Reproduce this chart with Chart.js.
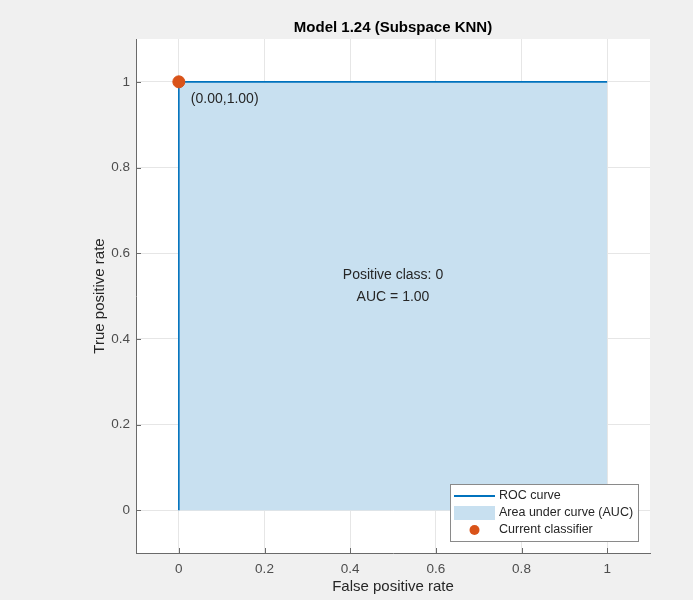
<!DOCTYPE html>
<html>
<head>
<meta charset="utf-8">
<script src="https://cdn.jsdelivr.net/npm/chart.js@4.4.1/dist/chart.umd.min.js"></script>
<style>
  html, body { margin: 0; padding: 0; background: #f0f0f0; }
  #wrap { width: 693px; height: 600px; }
</style>
</head>
<body>
<div id="wrap"><canvas id="roc"></canvas></div>
<script>
// ROC curve, Model 1.24 (Subspace KNN)
const fprValues = [0, 0, 1];
const tprValues = [0, 1, 1];
const currentFpr = [0];
const currentTpr = [1];
const xTicks = [0, 0.2, 0.4, 0.6, 0.8, 1];
const yTicks = [0, 0.2, 0.4, 0.6, 0.8, 1];
const tickLabels = ['0', '0.2', '0.4', '0.6', '0.8', '1'];
const chartTitle = 'Model 1.24 (Subspace KNN)';
const pointLabel = '(0.00,1.00)';
const infoLines = ['Positive class: 0', 'AUC = 1.00'];
const legendItems = ['ROC curve', 'Area under curve (AUC)', 'Current classifier'];

const colors = {
    roc: '#0072BD',
    area: 'rgb(200,224,240)',
    current: '#D95319',
    axis: '#6a6a6a',
    grid: '#e6e6e6',
    text: '#262626',
    tick: '#4d4d4d'
};
const fontFamily = '"Liberation Sans", Arial, Helvetica, sans-serif';

const rocPoints = fprValues.map((x, i) => ({ x, y: tprValues[i] }));
const currentPoints = currentFpr.map((x, i) => ({ x, y: currentTpr[i] }));

const backgroundPlugin = {
    id: 'matlabBackground',
    beforeDraw(chart) {
        const { ctx, chartArea: a } = chart;
        ctx.save();
        ctx.fillStyle = '#f0f0f0';
        ctx.fillRect(0, 0, chart.width, chart.height);
        ctx.fillStyle = '#ffffff';
        ctx.fillRect(a.left, a.top, a.right - a.left, a.bottom - a.top);
        ctx.restore();
    }
};

const overlayPlugin = {
    id: 'matlabOverlay',
    afterDraw(chart) {
        const { ctx, chartArea: a, scales } = chart;
        const xs = scales.x, ys = scales.y;
        ctx.save();

        // title centred over the axes
        ctx.fillStyle = '#000000';
        ctx.font = 'bold 15px ' + fontFamily;
        ctx.textAlign = 'center';
        ctx.textBaseline = 'middle';
        ctx.fillText(chartTitle, (a.left + a.right) / 2, 28);

        // inward tick marks
        ctx.strokeStyle = colors.axis;
        ctx.lineWidth = 1;
        ctx.beginPath();
        xTicks.forEach(v => {
            const px = Math.round(xs.getPixelForValue(v)) + 0.5;
            ctx.moveTo(px, a.bottom);
            ctx.lineTo(px, a.bottom - 5);
        });
        yTicks.forEach(v => {
            const py = Math.round(ys.getPixelForValue(v)) + 0.5;
            ctx.moveTo(a.left, py);
            ctx.lineTo(a.left + 5, py);
        });
        ctx.stroke();

        // current classifier label
        ctx.fillStyle = colors.text;
        ctx.font = '14px ' + fontFamily;
        ctx.textAlign = 'left';
        ctx.fillText(pointLabel,
            xs.getPixelForValue(currentFpr[0]) + 12,
            ys.getPixelForValue(currentTpr[0]) + 17);

        // positive class / AUC text
        ctx.textAlign = 'center';
        ctx.font = '14px ' + fontFamily;
        const cx = xs.getPixelForValue(0.5);
        ctx.fillText(infoLines[0], cx, ys.getPixelForValue(0.549));
        ctx.fillText(infoLines[1], cx, ys.getPixelForValue(0.498));

        // legend box in lower right corner
        const w = 188, h = 57;
        const bx = a.right - 12 - w, by = a.bottom - 12 - h;
        ctx.fillStyle = '#ffffff';
        ctx.fillRect(bx, by, w, h);
        ctx.strokeStyle = '#8a8a8a';
        ctx.strokeRect(bx + 0.5, by + 0.5, w, h);

        const sx0 = bx + 4, sx1 = bx + 45;
        ctx.strokeStyle = colors.roc;
        ctx.lineWidth = 2;
        ctx.beginPath();
        ctx.moveTo(sx0, by + 12);
        ctx.lineTo(sx1, by + 12);
        ctx.stroke();

        ctx.fillStyle = colors.area;
        ctx.fillRect(sx0, by + 22, sx1 - sx0, 14);

        ctx.fillStyle = colors.current;
        ctx.beginPath();
        ctx.arc((sx0 + sx1) / 2, by + 46, 5, 0, Math.PI * 2);
        ctx.fill();

        ctx.fillStyle = colors.text;
        ctx.font = '12.5px ' + fontFamily;
        ctx.textAlign = 'left';
        ctx.fillText(legendItems[0], bx + 49, by + 12);
        ctx.fillText(legendItems[1], bx + 49, by + 29);
        ctx.fillText(legendItems[2], bx + 49, by + 46);

        ctx.restore();
    }
};

function tickText(value) {
    const i = xTicks.findIndex(t => Math.abs(t - value) < 1e-9);
    return i >= 0 ? tickLabels[i] : '';
}

new Chart(document.getElementById('roc'), {
    type: 'scatter',
    plugins: [backgroundPlugin, overlayPlugin],
    data: {
        datasets: [
            {
                label: legendItems[1],
                data: rocPoints,
                showLine: true,
                borderWidth: 0,
                borderColor: 'rgba(0,0,0,0)',
                backgroundColor: colors.area,
                fill: { value: 0 },
                pointRadius: 0,
                tension: 0,
                order: 3
            },
            {
                label: legendItems[0],
                data: rocPoints,
                showLine: true,
                borderWidth: 1.6,
                borderColor: colors.roc,
                fill: false,
                pointRadius: 0,
                tension: 0,
                order: 2
            },
            {
                label: legendItems[2],
                data: currentPoints,
                pointRadius: 6,
                pointBackgroundColor: colors.current,
                pointBorderColor: colors.current,
                order: 1
            }
        ]
    },
    options: {
        responsive: true,
        maintainAspectRatio: false,
        animation: false,
        layout: { padding: { left: 0, right: 43, top: 39, bottom: 0 } },
        plugins: {
            legend: { display: false },
            tooltip: { enabled: false },
            title: { display: false }
        },
        scales: {
            x: {
                type: 'linear',
                min: -0.1,
                max: 1.1,
                afterBuildTicks: axis => { axis.ticks = xTicks.map(v => ({ value: v })); },
                afterFit: axis => { axis.height = 47; },
                grid: { color: colors.grid, drawTicks: false },
                border: { display: true, color: colors.axis },
                ticks: {
                    color: colors.tick,
                    font: { family: fontFamily, size: 13.5 },
                    padding: 8,
                    maxRotation: 0,
                    callback: v => tickText(v)
                },
                title: {
                    display: true,
                    text: 'False positive rate',
                    color: colors.text,
                    font: { family: fontFamily, size: 15 },
                    padding: { top: 4, bottom: 4 }
                }
            },
            y: {
                type: 'linear',
                min: -0.1,
                max: 1.1,
                afterBuildTicks: axis => { axis.ticks = yTicks.map(v => ({ value: v })); },
                afterFit: axis => { axis.width = 136; },
                grid: { color: colors.grid, drawTicks: false },
                border: { display: true, color: colors.axis },
                ticks: {
                    color: colors.tick,
                    font: { family: fontFamily, size: 13.5 },
                    padding: 6,
                    callback: v => tickText(v)
                },
                title: {
                    display: true,
                    text: 'True positive rate',
                    color: colors.text,
                    font: { family: fontFamily, size: 15 },
                    padding: { top: 91, bottom: 91 }
                }
            }
        }
    }
});
</script>
</body>
</html>
